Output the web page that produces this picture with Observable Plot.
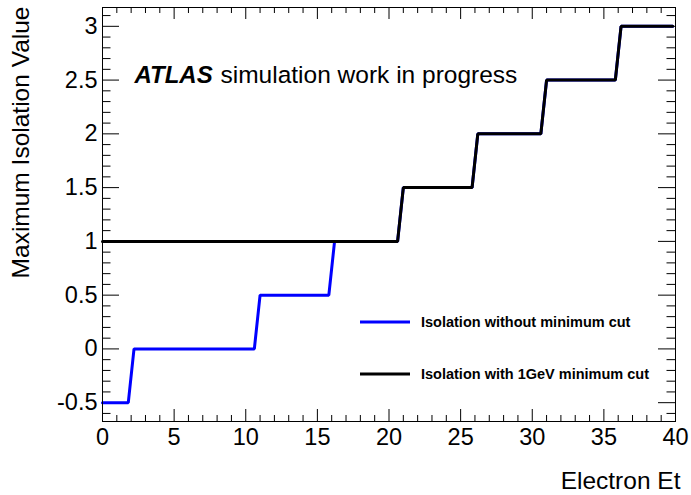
<!DOCTYPE html>
<html><head><meta charset="utf-8">
<script src="https://cdn.jsdelivr.net/npm/d3@7"></script>
<script src="https://cdn.jsdelivr.net/npm/@observablehq/plot@0.6"></script>
<style>body{margin:0;background:#fff;}</style>
</head><body><div id="chart"></div>
<script>
// ---- data ----
const blueX = [0, 1.8, 2.2, 10.6, 11.0, 15.8, 16.2, 20.6, 21.0, 25.8, 26.2, 30.6, 31.0, 35.8, 36.2, 39.8];
const blueY = [-0.5, -0.5, 0, 0, 0.5, 0.5, 1, 1, 1.5, 1.5, 2, 2, 2.5, 2.5, 3, 3];
const blackX = [0, 20.6, 21.0, 25.8, 26.2, 30.6, 31.0, 35.8, 36.2, 39.8];
const blackY = [1, 1, 1.5, 1.5, 2, 2, 2.5, 2.5, 3, 3];
const seriesNames = ["Isolation without minimum cut", "Isolation with 1GeV minimum cut"];
const seriesColors = ["#0000ff", "#000000"];
const xTicks = [0, 5, 10, 15, 20, 25, 30, 35, 40];
const yTicks = [-0.5, 0, 0.5, 1, 1.5, 2, 2.5, 3];
const xTitle = "Electron Et";
const yTitle = "Maximum Isolation Value";
const atlasBold = "ATLAS";
const atlasRest = "simulation work in progress";

// ---- layout ----
const W = 691, H = 495, ml = 102, mr = 16, mt = 7, mb = 74;
const iw = W - ml - mr, ih = H - mt - mb;
const FONT = "'Liberation Sans', Arial, Helvetica, sans-serif";

const blue = blueX.map((x, i) => ({x, y: blueY[i]}));
const black = blackX.map((x, i) => ({x, y: blackY[i]}));
const xMinor = d3.range(0, 41, 1).filter(v => v % 5 !== 0);
const yMinor = d3.range(-6, 32).map(v => v / 10).filter(v => Math.abs(v * 2 - Math.round(v * 2)) > 1e-9);

const XMAJ = 12, XMIN = 6, YMAJ = 17, YMIN = 8.5;

const plot = Plot.plot({
  width: W, height: H,
  marginLeft: ml, marginRight: mr, marginTop: mt, marginBottom: mb,
  style: {fontFamily: FONT, fontSize: "23.5px", color: "#000", background: "#fff"},
  x: {domain: [0, 40], ticks: xTicks, tickSize: 0, tickPadding: 7, tickFormat: d => String(d), label: null},
  y: {domain: [-0.675, 3.175], ticks: yTicks, tickSize: 0, tickPadding: 5, tickFormat: d => String(d), label: null},
  marks: [
    // ticks (inside, on all four sides)
    Plot.tickX(xTicks, {x: d => d, insetTop: ih - XMAJ, stroke: "#000"}),
    Plot.tickX(xTicks, {x: d => d, insetBottom: ih - XMAJ, stroke: "#000"}),
    Plot.tickX(xMinor, {x: d => d, insetTop: ih - XMIN, stroke: "#000"}),
    Plot.tickX(xMinor, {x: d => d, insetBottom: ih - XMIN, stroke: "#000"}),
    Plot.tickY(yTicks, {y: d => d, insetRight: iw - YMAJ, stroke: "#000"}),
    Plot.tickY(yTicks, {y: d => d, insetLeft: iw - YMAJ, stroke: "#000"}),
    Plot.tickY(yMinor, {y: d => d, insetRight: iw - YMIN, stroke: "#000"}),
    Plot.tickY(yMinor, {y: d => d, insetLeft: iw - YMIN, stroke: "#000"}),
    // series
    Plot.line(blue, {x: "x", y: "y", stroke: seriesColors[0], strokeWidth: 3, strokeLinejoin: "miter"}),
    Plot.line(black, {x: "x", y: "y", stroke: seriesColors[1], strokeWidth: 3, strokeLinejoin: "miter"}),
    Plot.frame({stroke: "#000"}),
    // annotations
    Plot.text([atlasBold], {text: d => d, frameAnchor: "top-left", dx: 32, dy: 67.5, textAnchor: "start",
      lineAnchor: "middle", fontWeight: "bold", fontStyle: "italic", fontSize: 24, fill: "#000"}),
    Plot.text([atlasRest], {text: d => d, frameAnchor: "top-left", dx: 118, dy: 67.5, textAnchor: "start",
      lineAnchor: "middle", fontSize: 24.5, fill: "#000"}),
    // axis titles
    Plot.text([xTitle], {text: d => d, frameAnchor: "bottom-right", dx: 5, dy: 59.5, textAnchor: "end",
      lineAnchor: "middle", fontSize: 24.5, fill: "#000"}),
    Plot.text([yTitle], {text: d => d, frameAnchor: "top-left", dx: -81, dy: -1, rotate: -90, textAnchor: "end",
      lineAnchor: "middle", fontSize: 24.5, fill: "#000"})
  ]
});

// ---- legend ----
const svg = d3.select(plot);
const lg = svg.append("g").attr("font-family", FONT).attr("font-size", 14.5).attr("font-weight", "bold")
  .attr("text-anchor", "start");
const rowsY = [322, 374];
seriesNames.forEach((name, i) => {
  const y = rowsY[i];
  lg.append("line").attr("x1", 360).attr("x2", 410).attr("y1", y).attr("y2", y)
    .attr("stroke", seriesColors[i]).attr("stroke-width", 3);
  lg.append("text").attr("x", 421).attr("y", y).attr("dy", "0.35em").attr("fill", "#000")
    .attr("text-anchor", "start").text(name);
});

document.getElementById("chart").appendChild(plot);
</script>
</body></html>
